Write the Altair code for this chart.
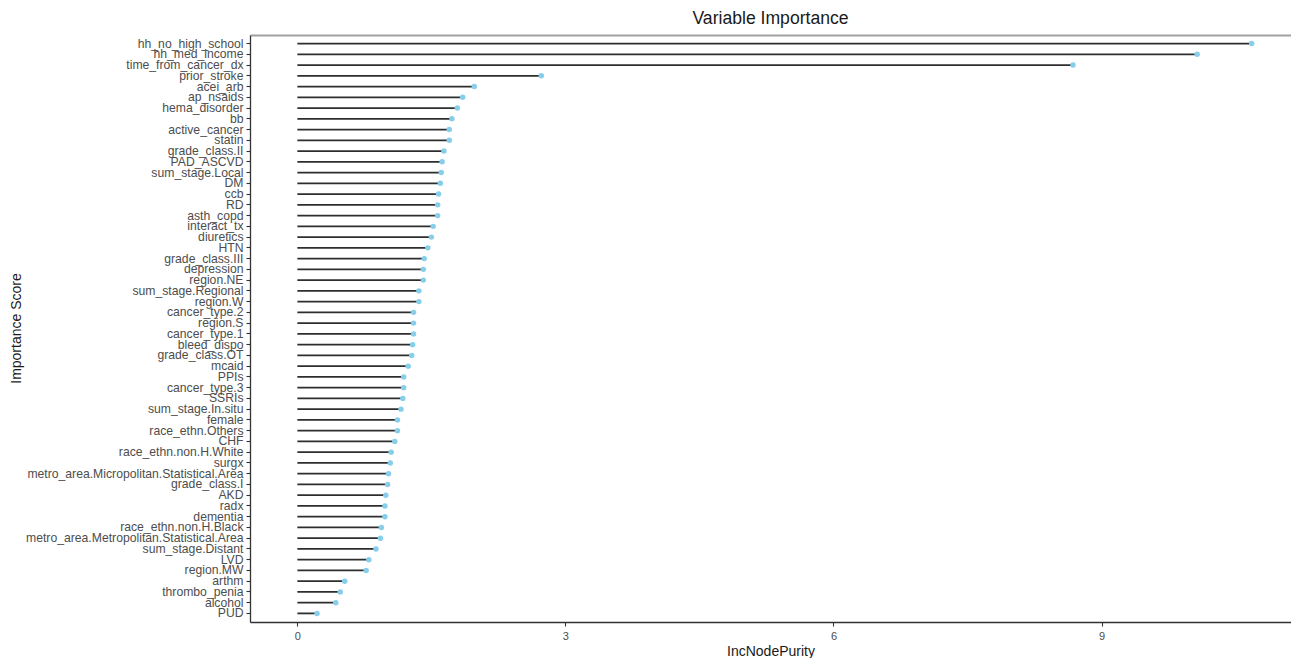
import altair as alt
import pandas as pd

variables = [
    "hh_no_high_school", "hh_med_income", "time_from_cancer_dx", "prior_stroke",
    "acei_arb", "ap_nsaids", "hema_disorder", "bb", "active_cancer", "statin",
    "grade_class.II", "PAD_ASCVD", "sum_stage.Local", "DM", "ccb", "RD",
    "asth_copd", "interact_tx", "diuretics", "HTN", "grade_class.III",
    "depression", "region.NE", "sum_stage.Regional", "region.W", "cancer_type.2",
    "region.S", "cancer_type.1", "bleed_dispo", "grade_class.OT", "mcaid", "PPIs",
    "cancer_type.3", "SSRIs", "sum_stage.In.situ", "female", "race_ethn.Others",
    "CHF", "race_ethn.non.H.White", "surgx",
    "metro_area.Micropolitan.Statistical.Area", "grade_class.I", "AKD", "radx",
    "dementia", "race_ethn.non.H.Black",
    "metro_area.Metropolitan.Statistical.Area", "sum_stage.Distant", "LVD",
    "region.MW", "arthm", "thrombo_penia", "alcohol", "PUD",
]
scores = [
    10.68, 10.07, 8.68, 2.73,
    1.98, 1.85, 1.79, 1.73, 1.70, 1.70,
    1.64, 1.62, 1.61, 1.60, 1.58, 1.57,
    1.57, 1.52, 1.50, 1.46, 1.42,
    1.41, 1.41, 1.36, 1.36, 1.30,
    1.30, 1.30, 1.29, 1.28, 1.24, 1.19,
    1.19, 1.18, 1.16, 1.12, 1.12,
    1.09, 1.05, 1.04,
    1.02, 1.01, 0.99, 0.98,
    0.98, 0.94,
    0.93, 0.88, 0.80,
    0.77, 0.53, 0.48, 0.43, 0.22,
]
x_breaks = [0, 1.5, 3, 4.5, 6, 7.5, 9, 10.5]

df = pd.DataFrame({"variable": variables, "score": scores})

FONT = "Liberation Sans"
xscale = alt.Scale(domain=[-0.53, 11.12], nice=False, zero=False)

y_axis = alt.Axis(
    title="Importance Score",
    labelFont=FONT, labelFontSize=12.2, labelColor="#4d4d4d", labelLimit=400,
    labelPadding=3, tickSize=4, tickColor="#333333", tickWidth=1.1,
    domainColor="#333333", domainWidth=1.3, grid=False,
    titleFont=FONT, titleFontSize=14, titleFontWeight="normal", titleColor="#1a1a1a",
    titleX=-234, titleY=293, titleAngle=270, titleAlign="center", titleBaseline="middle",
)
y_enc = alt.Y("variable:N", sort=variables, scale=alt.Scale(padding=0.6), axis=y_axis)

rules = alt.Chart(df).mark_rule(color="#2e2e2e", strokeWidth=1.8).encode(
    x=alt.X("base:Q", scale=xscale,
            axis=alt.Axis(orient="top", labels=False, ticks=False, grid=False,
                          domainColor="#a0a0a0", domainWidth=2, title=None)),
    x2="score:Q",
    y=y_enc,
).transform_calculate(base="0")

points = alt.Chart(df).mark_circle(color="#87CEEB", size=30, opacity=1).encode(
    x=alt.X("score:Q", scale=xscale,
            axis=alt.Axis(
                orient="bottom", values=x_breaks, title="IncNodePurity",
                labelExpr="datum.value % 3 === 0 ? datum.label : ''",
                labelFont=FONT, labelFontSize=11, labelColor="#4d4d4d", labelPadding=4,
                labelFlush=False,
                tickSize=4, tickColor="#333333", tickWidth=1.1,
                tickOpacity={"condition": {"test": "datum.value % 3 !== 0", "value": 0}, "value": 1},
                domainColor="#333333", domainWidth=1.3,
                grid=True, gridColor="#ffffff", gridWidth=1.5,
                titleFont=FONT, titleFontSize=14, titleFontWeight="normal", titleColor="#1a1a1a",
                titleY=29, titleBaseline="middle",
            )),
    y=y_enc,
)

chart = alt.layer(rules, points).resolve_axis(x="independent").properties(
    width=1041, height=587,
    title=alt.TitleParams("Variable Importance", font=FONT, fontSize=17.6,
                          fontWeight="normal", color="#1a1a1a", offset=7, anchor="middle"),
    autosize=alt.AutoSizeParams(type="none"),
    padding={"left": 242, "top": 27, "right": 0, "bottom": 36},
).configure_view(stroke="#e3e3e3", strokeWidth=1)

chart.save("out.html", embed_options={"renderer": "svg", "actions": False})
